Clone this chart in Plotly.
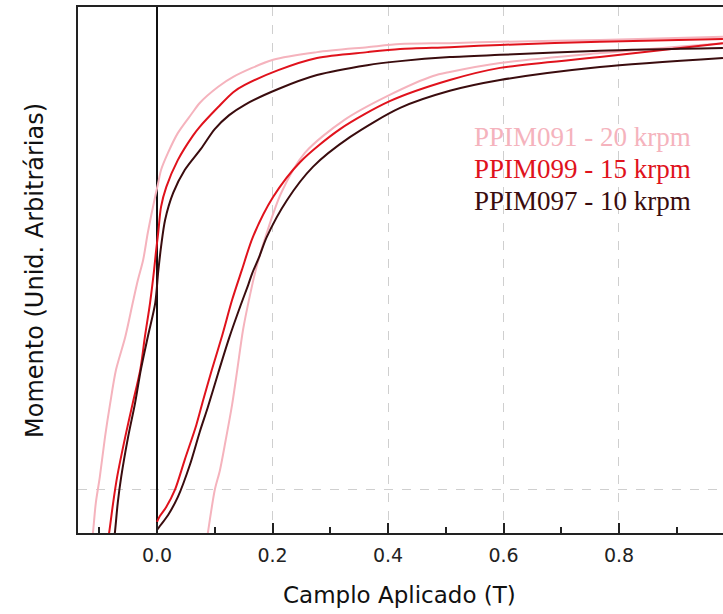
import plotly.graph_objects as go

# ---- data (field in T, moment in arbitrary units) ----
# PPIM091 - 20 krpm
p091_desc_x = [0.980, 0.767, 0.594, 0.507, 0.421, 0.364, 0.277, 0.201, 0.132, 0.106, 0.074, 0.060, 0.036, 0.019, 0.007, 0.002, -0.007, -0.016, -0.024, -0.033, -0.042, -0.055, -0.071, -0.081, -0.090, -0.099, -0.106, -0.111, -0.114]
p091_desc_y = [1.007, 1.000, 0.996, 0.993, 0.991, 0.984, 0.973, 0.956, 0.918, 0.896, 0.860, 0.836, 0.793, 0.749, 0.711, 0.682, 0.629, 0.571, 0.511, 0.467, 0.416, 0.340, 0.267, 0.193, 0.118, 0.029, -0.029, -0.096, -0.122]
p091_asc_x = [0.085, 0.088, 0.100, 0.109, 0.119, 0.130, 0.139, 0.149, 0.161, 0.171, 0.190, 0.215, 0.256, 0.324, 0.403, 0.478, 0.507, 0.594, 0.767, 0.980]
p091_asc_y = [-0.122, -0.096, 0.000, 0.044, 0.111, 0.189, 0.267, 0.356, 0.433, 0.489, 0.571, 0.660, 0.749, 0.822, 0.878, 0.920, 0.929, 0.949, 0.971, 0.993]

# PPIM099 - 15 krpm
p099_desc_x = [0.980, 0.767, 0.594, 0.507, 0.421, 0.364, 0.277, 0.210, 0.152, 0.132, 0.106, 0.074, 0.062, 0.036, 0.016, 0.007, 0.002, -0.002, -0.005, -0.012, -0.021, -0.029, -0.042, -0.055, -0.069, -0.076, -0.083, -0.087]
p099_desc_y = [1.002, 0.996, 0.989, 0.984, 0.980, 0.973, 0.960, 0.933, 0.900, 0.884, 0.851, 0.807, 0.787, 0.733, 0.673, 0.629, 0.571, 0.527, 0.489, 0.416, 0.340, 0.267, 0.193, 0.118, 0.029, -0.029, -0.096, -0.122]
p099_asc_x = [0.000, 0.005, 0.016, 0.031, 0.048, 0.068, 0.080, 0.095, 0.113, 0.130, 0.147, 0.166, 0.201, 0.248, 0.317, 0.403, 0.507, 0.594, 0.767, 0.980]
p099_asc_y = [-0.071, -0.058, -0.038, 0.000, 0.067, 0.144, 0.200, 0.267, 0.344, 0.422, 0.489, 0.562, 0.651, 0.729, 0.802, 0.864, 0.911, 0.938, 0.962, 0.993]

# PPIM097 - 10 krpm
p097_desc_x = [0.980, 0.767, 0.594, 0.507, 0.421, 0.364, 0.277, 0.210, 0.152, 0.125, 0.100, 0.076, 0.048, 0.028, 0.014, 0.007, 0.002, -0.003, -0.016, -0.028, -0.038, -0.050, -0.062, -0.068, -0.073, -0.076]
p097_desc_y = [0.982, 0.976, 0.967, 0.962, 0.953, 0.944, 0.922, 0.891, 0.856, 0.833, 0.802, 0.758, 0.711, 0.660, 0.600, 0.540, 0.484, 0.416, 0.340, 0.267, 0.193, 0.118, 0.029, -0.029, -0.096, -0.122]
p097_asc_x = [0.000, 0.005, 0.019, 0.036, 0.057, 0.074, 0.088, 0.106, 0.125, 0.145, 0.158, 0.165, 0.177, 0.190, 0.225, 0.270, 0.334, 0.421, 0.507, 0.594, 0.767, 0.980]
p097_asc_y = [-0.089, -0.080, -0.056, -0.016, 0.056, 0.129, 0.184, 0.260, 0.338, 0.411, 0.456, 0.482, 0.518, 0.562, 0.644, 0.718, 0.784, 0.849, 0.887, 0.911, 0.940, 0.960]

series_names = ["PPIM091 - 20 krpm", "PPIM099 - 15 krpm", "PPIM097 - 10 krpm"]
series_colors = ["#F5B3BD", "#E0121C", "#3A0C0E"]

x_ticks = [0.0, 0.2, 0.4, 0.6, 0.8]
x_tick_text = ["0.0", "0.2", "0.4", "0.6", "0.8"]
x_range = [-0.1368, 0.9801]
y_range = [-0.0956, 1.0733]

fig = go.Figure()

loops = [
    (p091_desc_x, p091_desc_y, p091_asc_x, p091_asc_y),
    (p099_desc_x, p099_desc_y, p099_asc_x, p099_asc_y),
    (p097_desc_x, p097_desc_y, p097_asc_x, p097_asc_y),
]
for (dx, dy, ax, ay), name, col in zip(loops, series_names, series_colors):
    fig.add_trace(go.Scatter(x=dx, y=dy, mode="lines", name=name,
                             line=dict(color=col, width=2, shape="spline", smoothing=0.8),
                             showlegend=False, hoverinfo="skip"))
    fig.add_trace(go.Scatter(x=ax, y=ay, mode="lines", name=name,
                             line=dict(color=col, width=2, shape="spline", smoothing=0.8),
                             showlegend=False, hoverinfo="skip"))

axis_color = "#222222"
fig.update_layout(
    width=723, height=614,
    margin=dict(l=78, r=0, t=7, b=81),
    paper_bgcolor="white", plot_bgcolor="white",
    showlegend=False,
    xaxis=dict(
        range=x_range, tickvals=x_ticks, ticktext=x_tick_text,
        showline=True, linecolor=axis_color, linewidth=2, mirror=True,
        ticks="inside", ticklen=10, tickwidth=2, tickcolor=axis_color,
        minor=dict(ticks="inside", ticklen=6, tickwidth=2, tickcolor=axis_color, dtick=0.1, tick0=0, showgrid=False),
        showgrid=True, gridcolor="#cfcfcf", griddash="dash", gridwidth=1,
        zeroline=True, zerolinecolor="#111111", zerolinewidth=2,
        tickfont=dict(family="DejaVu Sans", size=19, color=axis_color),
        ticklabelstandoff=4,
    ),
    yaxis=dict(
        range=y_range, tickvals=[0.0], showticklabels=False, ticks="",
        showline=True, linecolor=axis_color, linewidth=2, mirror=False,
        showgrid=True, gridcolor="#cfcfcf", griddash="dash", gridwidth=1,
        zeroline=False,
    ),
)

# white box behind the legend text (covers gridlines)
fig.add_shape(type="rect", xref="paper", yref="paper", x0=0.597, x1=0.972, y0=0.572, y1=0.7985,
              fillcolor="white", line=dict(width=0), layer="between")

legend_y = [0.7529, 0.692, 0.6312]
for name, col, ly in zip(series_names, series_colors, legend_y):
    fig.add_annotation(xref="paper", yref="paper", x=0.611, y=ly, xanchor="left", yanchor="middle",
                       text=name, showarrow=False,
                       font=dict(family="Liberation Serif", size=27, color=col))

fig.add_annotation(xref="paper", yref="paper", x=0.499, y=-0.118, xanchor="center", yanchor="middle",
                   text="Camplo Aplicado (T)", showarrow=False,
                   font=dict(family="DejaVu Sans", size=23, color="#111111"))
fig.add_annotation(xref="paper", yref="paper", x=-0.0667, y=0.5, xanchor="center", yanchor="middle",
                   text="Momento (Unid. Arbitrárias)", textangle=-90, showarrow=False,
                   font=dict(family="DejaVu Sans", size=24, color="#111111"))

fig.write_html("out.html")
